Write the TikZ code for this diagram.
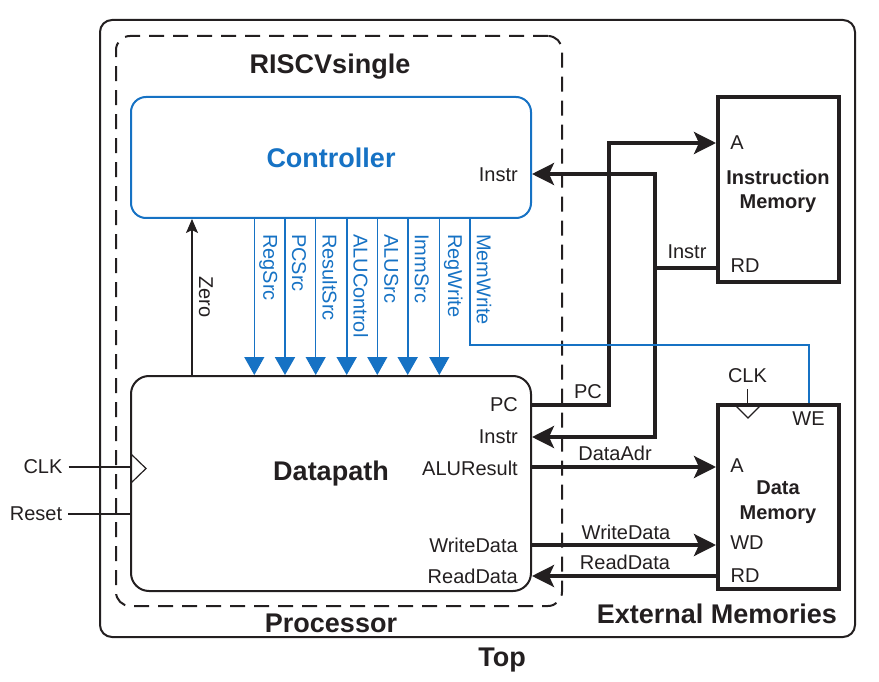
\documentclass[tikz,border=0pt]{standalone}
\usepackage{fontspec}
\setmainfont{Liberation Sans}
\usetikzlibrary{arrows.meta}
\definecolor{ink}{RGB}{35,31,32}
\definecolor{ctrlblue}{RGB}{22,114,196}

\begin{document}
\begin{tikzpicture}[x=1pt,y=-1pt,
  every node/.style={text=ink},
  lbl/.style={inner sep=0pt, font=\fontsize{20}{24}\selectfont},
  memname/.style={inner sep=0pt, align=center, font=\fontsize{20}{24.5}\selectfont\bfseries},
  heading/.style={inner sep=0pt, font=\fontsize{27}{32}\selectfont\bfseries},
  bus/.style={line width=3.5pt, draw=ink},
  busarrow/.style={bus, -{Stealth[length=22pt,width=22pt,inset=5pt]}},
  wire/.style={line width=1.2pt, draw=ink},
  ctl/.style={line width=1.1pt, draw=ctrlblue, -{Triangle[length=18pt,width=20pt]}},
  ctlbus/.style={ctl, line width=2pt},
  ctlwire/.style={line width=1.1pt, draw=ctrlblue},
  memory/.style={draw=ink, line width=4pt, inner sep=0pt},
]
\useasboundingbox (0,0) rectangle (879,682);

% enclosing blocks
\node[draw=ink, line width=2pt, rounded corners=12pt, inner sep=0pt,
      minimum width=755pt, minimum height=617pt] (topbox) at (477.5,328.5) {};
\node[draw=ink, line width=2pt, dash pattern=on 15pt off 9pt, rounded corners=14pt,
      inner sep=0pt, minimum width=446pt, minimum height=570pt] (proc) at (339,321) {};

% controller and datapath
\node[draw=ctrlblue, line width=2pt, rounded corners=15pt, inner sep=0pt,
      minimum width=400pt, minimum height=121pt] (ctrl) at (331,157.5) {};
\node[draw=ink, line width=2pt, rounded corners=18pt, inner sep=0pt,
      minimum width=400pt, minimum height=215pt] (dp) at (331,483.5) {};

% memories
\node[memory, minimum width=121pt, minimum height=185pt] (imem) at (778.5,189.5) {};
\node[memory, minimum width=121pt, minimum height=184pt] (dmem) at (778.5,497) {};

% titles
\node[heading, anchor=base] (tRISC) at (330,73.5) {RISCVsingle};
\node[heading, text=ctrlblue] (tCtrl) at (331,158) {Controller};
\node[heading, anchor=base] (tDp) at (331,480) {Datapath};
\node[heading, anchor=base] (tProc) at (331,632) {Processor};
\node[heading, anchor=base] (tExt) at (717,623) {External Memories};
\node[heading, anchor=base] (tTop) at (502,666) {Top};
\node[memname] (tIM) at (778,191.5) {Instruction\\Memory};
\node[memname] (tDM) at (778,502) {Data\\Memory};

% port labels
\node[lbl, anchor=east] (pCI) at (518,175) {Instr};
\node[lbl, anchor=east] (pPC) at (518,405) {PC};
\node[lbl, anchor=east] (pDI) at (518,437) {Instr};
\node[lbl, anchor=east] (pAR) at (518,468) {ALUResult};
\node[lbl, anchor=east] (pWD) at (518,545) {WriteData};
\node[lbl, anchor=east] (pRD) at (518,576) {ReadData};
\node[lbl] (iA) at (737,142.5) {A};
\node[lbl] (iRD) at (745,266) {RD};
\node[lbl] (dA) at (737,466) {A};
\node[lbl] (dWD) at (747,542.5) {WD};
\node[lbl] (dRD) at (745,575.5) {RD};
\node[lbl] (dWE) at (808.5,418.5) {WE};
\node[lbl] (dCLK) at (747.5,376) {CLK};

% wire labels
\node[lbl] (wPC) at (588,392) {PC};
\node[lbl] (wInstr) at (687,251.5) {Instr};
\node[lbl] (wDA) at (615,453.5) {DataAdr};
\node[lbl] (wWD) at (626,532) {WriteData};
\node[lbl] (wRD) at (625,562.5) {ReadData};

% levels and columns used by the buses
\coordinate (yIA) at (0,143);
\coordinate (yIRD) at (0,268);
\coordinate (yCI) at (0,174);
\coordinate (yPC) at (0,405);
\coordinate (yDI) at (0,437);
\coordinate (yDA) at (0,467);
\coordinate (yWD) at (0,545);
\coordinate (yRD) at (0,576);
\coordinate (xPC) at (609,0);
\coordinate (xI) at (655,0);

% buses between processor and memories
\draw[busarrow] (dp.east |- yPC) -| (xPC |- yIA) -- (imem.west |- yIA);
\draw[busarrow] (imem.west |- yIRD) -| (xI |- yCI) -- (ctrl.east |- yCI);
\draw[busarrow] (xI |- yIRD) |- (dp.east |- yDI);
\draw[busarrow] (dp.east |- yDA) -- (dmem.west |- yDA);
\draw[busarrow] (dp.east |- yWD) -- (dmem.west |- yWD);
\draw[busarrow] (dmem.west |- yRD) -- (dp.east |- yRD);

% Zero flag
\coordinate (xZ) at (192,0);
\draw[wire, -{Stealth[length=14pt,width=12pt,inset=3pt]}] (dp.north -| xZ) -- (ctrl.south -| xZ);
\node[lbl, rotate=-90] (tZero) at (206,297) {Zero};

% control signals
\foreach \x/\name/\sty [count=\i] in {254.3/RegSrc/ctl, 285/PCSrc/ctlbus,
    315.7/ResultSrc/ctl, 346.7/ALUControl/ctlbus, 377.3/ALUSrc/ctl,
    407.7/ImmSrc/ctlbus, 439.3/RegWrite/ctl} {
  \coordinate (cs\i) at (\x,0);
  \draw[\sty] (ctrl.south -| cs\i) -- (dp.north -| cs\i);
  \node[lbl, rotate=-90, anchor=west, text=ctrlblue] (cl\i) at ({\x+14},234) {\name};
}
\coordinate (xMW) at (470,0);
\coordinate (yMW) at (0,345);
\coordinate (xWE) at (809,0);
\draw[ctlwire] (ctrl.south -| xMW) |- (xWE |- yMW) -- (dmem.north -| xWE);
\node[lbl, rotate=-90, anchor=west, text=ctrlblue] (clMW) at (484,234) {MemWrite};

% clock and reset inputs
\node[lbl] (clk) at (43,467) {CLK};
\node[lbl] (rst) at (36,514) {Reset};
\draw[wire] ([xshift=6pt]clk.east) -- (dp.west |- clk.east);
\draw[wire] ([xshift=6pt]rst.east) -- (dp.west |- rst.east);
\draw[wire, line join=miter] (131,454) -- (146,468.5) -- (131,483);
\draw[wire] (dCLK.south |- 0,389) -- (dmem.north -| dCLK.south);
\draw[wire, line join=miter] (735,405) -- (748,418) -- (761,405);
\end{tikzpicture}
\end{document}
